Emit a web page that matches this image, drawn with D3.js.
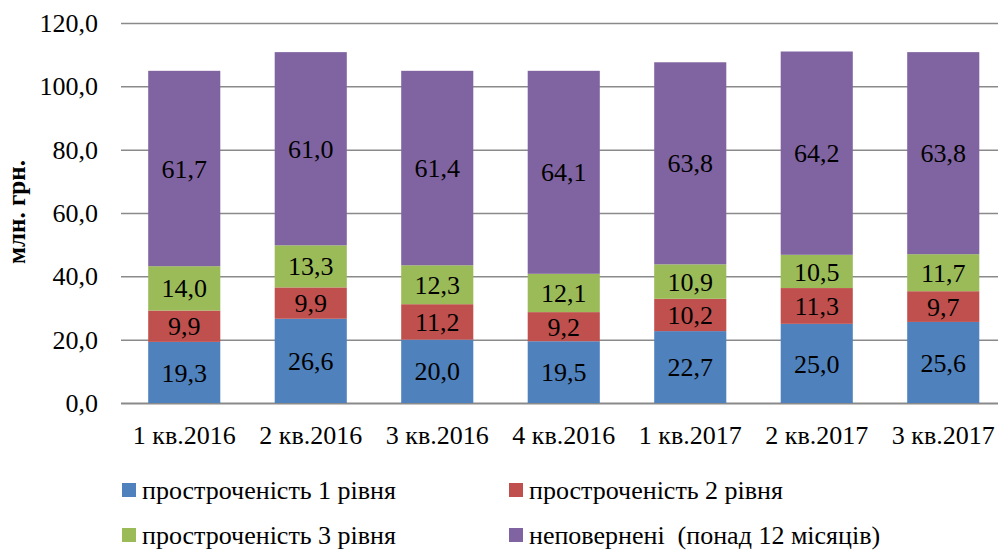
<!DOCTYPE html>
<html>
<head>
<meta charset="utf-8">
<script src="https://cdn.jsdelivr.net/npm/d3@7"></script>
<style>
  body { margin: 0; background: #fff; }
  svg { display: block; }
  svg text { font-family: "Liberation Serif", "DejaVu Serif", "Times New Roman", serif; }
</style>
</head>
<body>
<div id="chart"></div>
<script>
// дані
var quarters = ["1 кв.2016", "2 кв.2016", "3 кв.2016", "4 кв.2016", "1 кв.2017", "2 кв.2017", "3 кв.2017"]
var level1 = [19.3, 26.6, 20.0, 19.5, 22.7, 25.0, 25.6]
var level2 = [9.9, 9.9, 11.2, 9.2, 10.2, 11.3, 9.7]
var level3 = [14.0, 13.3, 12.3, 12.1, 10.9, 10.5, 11.7]
var overdue12 = [61.7, 61.0, 61.4, 64.1, 63.8, 64.2, 63.8]
var seriesNames = ["простроченість 1 рівня", "простроченість 2 рівня", "простроченість 3 рівня", "неповернені  (понад 12 місяців)"]
var yTicks = [0, 20, 40, 60, 80, 100, 120]

var width = 998
var height = 552
var colors = ["#4F81BD", "#C0504D", "#9BBB59", "#8064A2"]

var svg = d3.select("#chart")
  .append("svg")
    .attr("width", width)
    .attr("height", height)

// таблиця для stack
var keys = ["l1", "l2", "l3", "l4"]
var table = quarters.map(function(q, i) {
  return { q: q, l1: level1[i], l2: level2[i], l3: level3[i], l4: overdue12[i] }
})
var stacked = d3.stack().keys(keys)(table)

var x = d3.scaleBand()
  .domain(quarters)
  .range([121, 1006.5])
  .paddingInner(0.43)
  .paddingOuter(0.215)

var y = d3.scaleLinear()
  .domain([0, 120])
  .range([403, 23])

// сітка
svg.append("g")
  .selectAll("line")
  .data(yTicks)
  .enter()
  .append("line")
    .attr("x1", 121)
    .attr("x2", width)
    .attr("y1", function(d){ return y(d) + 0.5 })
    .attr("y2", function(d){ return y(d) + 0.5 })
    .attr("stroke", "#8a8a8a")
    .attr("stroke-width", function(d){ return d === 0 ? 2 : 1.5 })

// підписи осі Y
svg.append("g")
  .selectAll("text")
  .data(yTicks)
  .enter()
  .append("text")
    .attr("x", 98)
    .attr("y", function(d){ return y(d) })
    .attr("dy", "0.35em")
    .attr("text-anchor", "end")
    .style("font-size", "26px")
    .text(function(d){ return d3.format(".1f")(d).replace(".", ",") })

// стовпці
var groups = svg.append("g")
  .selectAll("g")
  .data(stacked)
  .enter()
  .append("g")
    .attr("fill", function(d, i){ return colors[i] })

groups.selectAll("rect")
  .data(function(d){ return d })
  .enter()
  .append("rect")
    .attr("x", function(d){ return x(d.data.q) })
    .attr("width", x.bandwidth())
    .attr("y", function(d){ return y(d[1]) })
    .attr("height", function(d){ return y(d[0]) - y(d[1]) })

// підписи значень
groups.selectAll("text")
  .data(function(d){ return d })
  .enter()
  .append("text")
    .attr("x", function(d){ return x(d.data.q) + x.bandwidth() / 2 })
    .attr("y", function(d){ return (y(d[0]) + y(d[1])) / 2 })
    .attr("dy", "0.35em")
    .attr("text-anchor", "middle")
    .attr("fill", "#000")
    .style("font-size", "26px")
    .text(function(d){ return d3.format(".1f")(d[1] - d[0]).replace(".", ",") })

// підписи осі X
svg.append("g")
  .selectAll("text")
  .data(quarters)
  .enter()
  .append("text")
    .attr("x", function(d){ return x(d) + x.bandwidth() / 2 })
    .attr("y", 444)
    .attr("text-anchor", "middle")
    .style("font-size", "26px")
    .text(function(d){ return d })

// назва осі Y
svg.append("text")
  .attr("transform", "translate(25,212) rotate(-90)")
  .attr("text-anchor", "middle")
  .style("font-size", "25px")
  .style("font-weight", "bold")
  .text("млн. грн.")

// легенда
var legend = svg.append("g")
  .selectAll("g")
  .data(seriesNames)
  .enter()
  .append("g")
    .attr("transform", function(d, i){ return "translate(" + (i % 2 === 0 ? 122 : 509) + "," + (483 + Math.floor(i / 2) * 45) + ")" })

legend.append("rect")
  .attr("width", 14)
  .attr("height", 14)
  .attr("fill", function(d, i){ return colors[i] })

legend.append("text")
  .attr("x", 20)
  .attr("y", 7)
  .attr("dy", "0.35em")
  .style("font-size", "26px")
  .style("white-space", "pre")
  .text(function(d){ return d })
</script>
</body>
</html>
